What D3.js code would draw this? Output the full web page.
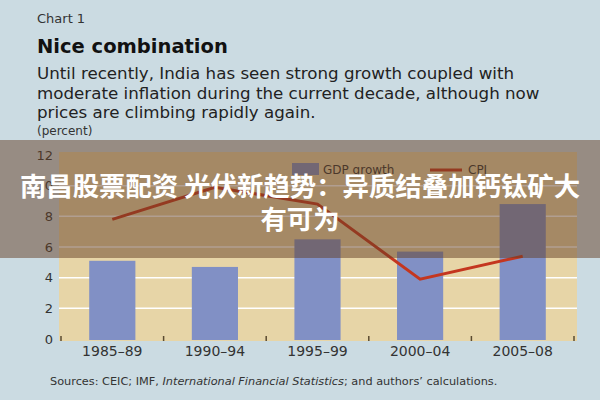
<!DOCTYPE html>
<html><head><meta charset="utf-8">
<script src="https://cdn.jsdelivr.net/npm/d3@7"></script>
<style>body{margin:0;background:#cbdbe2;}svg{display:block;font-family:"DejaVu Sans",sans-serif;}</style>
</head><body>
<svg id="c" width="600" height="400"></svg>
<script>
const categories = ["1985–89","1990–94","1995–99","2000–04","2005–08"];
const gdpGrowth = [5.1, 4.7, 6.5, 5.7, 8.8];
const cpi = [7.8, 9.9, 8.8, 3.9, 5.4];
const yTicks = [0,2,4,6,8,10,12];

const svg = d3.select("#c");
svg.append("rect").attr("width",600).attr("height",400).attr("fill","#cbdbe2");

const x = d3.scaleBand().domain(categories).range([61,574]).paddingInner(0.55).paddingOuter(0.275);
const y = d3.scaleLinear().domain([0,12]).range([339,155]);

// plot bg
svg.append("rect").attr("x",59).attr("y",y(12)-3).attr("width",518).attr("height",y(0)-y(12)+5).attr("fill","#e7d5a7");
// grid
svg.selectAll("line.g").data(yTicks.filter(d=>d>0 && d<12)).enter().append("line")
  .attr("x1",59).attr("x2",577).attr("y1",d=>y(d)).attr("y2",d=>y(d)).attr("stroke","#fff").attr("stroke-width",1.5);

// bars
svg.selectAll("rect.b").data(gdpGrowth).enter().append("rect")
  .attr("x",(d,i)=>x(categories[i])).attr("width",x.bandwidth())
  .attr("y",d=>y(d)).attr("height",d=>y(0)-y(d)+1).attr("fill","#8190c5");

// line
const line = d3.line().x((d,i)=>x(categories[i])+x.bandwidth()/2).y(d=>y(d));
svg.append("path").datum(cpi).attr("d",line).attr("fill","none").attr("stroke","#c4361f").attr("stroke-width",3);

// y axis labels
const yAxis = d3.axisLeft(y).tickValues(yTicks).tickSize(0).tickPadding(0);
const ya = svg.append("g").attr("transform","translate(53,0)").call(yAxis);
ya.select(".domain").remove();
ya.selectAll("text").attr("font-size",13).attr("fill","#333").attr("font-family","DejaVu Sans, sans-serif");

// x axis ticks (band boundaries) and labels
const tickPos = d3.range(categories.length+1).map(i=>61 + i*(574-61)/categories.length);
svg.selectAll("line.t").data(tickPos).enter().append("line")
  .attr("x1",d=>d).attr("x2",d=>d).attr("y1",336).attr("y2",341).attr("stroke","#5a4a30").attr("stroke-width",1.5);
const xAxis = d3.axisBottom(x).tickSize(0).tickPadding(0);
const xa = svg.append("g").attr("transform","translate(0,346)").call(xAxis);
xa.select(".domain").remove();
xa.selectAll("text").attr("font-size",14).attr("fill","#333").attr("font-family","DejaVu Sans, sans-serif");

// legend
svg.append("rect").attr("x",292).attr("y",163).attr("width",27).attr("height",12).attr("fill","#8190c5");
svg.append("text").attr("x",323).attr("y",174).attr("font-size",12).attr("fill","#333").text("GDP growth");
svg.append("line").attr("x1",430).attr("x2",462).attr("y1",170).attr("y2",170).attr("stroke","#c4361f").attr("stroke-width",3);
svg.append("text").attr("x",468).attr("y",174).attr("font-size",12).attr("fill","#333").text("CPI");

// titles
svg.append("text").attr("x",37).attr("y",23).attr("font-size",13).attr("fill","#333").text("Chart 1");
svg.append("text").attr("x",37).attr("y",53).attr("font-size",19.5).attr("font-weight","bold").attr("fill","#111").text("Nice combination");
const sub = ["Until recently, India has seen strong growth coupled with","moderate inflation during the current decade, although now","prices are climbing rapidly again."];
svg.selectAll("text.s").data(sub).enter().append("text").attr("x",37).attr("y",(d,i)=>79+i*19.5)
  .attr("font-size",16.7).attr("fill","#222").text(d=>d);
svg.append("text").attr("x",37).attr("y",135).attr("font-size",12).attr("fill","#333").text("(percent)");

// source
const src = svg.append("text").attr("x",50).attr("y",385).attr("font-size",11.3).attr("fill","#333");
src.append("tspan").text("Sources: CEIC; IMF, ");
src.append("tspan").attr("font-style","italic").text("International Financial Statistics");
src.append("tspan").text("; and authors’ calculations.");

// overlay banner
svg.append("rect").attr("x",0).attr("y",140).attr("width",600).attr("height",118).attr("fill","rgba(100,62,36,0.5)");
const bannerLines = ["南昌股票配资 光伏新趋势：异质结叠加钙钛矿大","有可为"];
svg.selectAll("text.ban").data(bannerLines).enter().append("text")
  .attr("x",300).attr("y",(d,i)=>196+i*33).attr("text-anchor","middle")
  .attr("font-family","Noto Sans CJK SC").attr("font-weight","bold").attr("font-size",26.4).attr("fill","#fff").text(d=>d);
</script>
</body></html>
